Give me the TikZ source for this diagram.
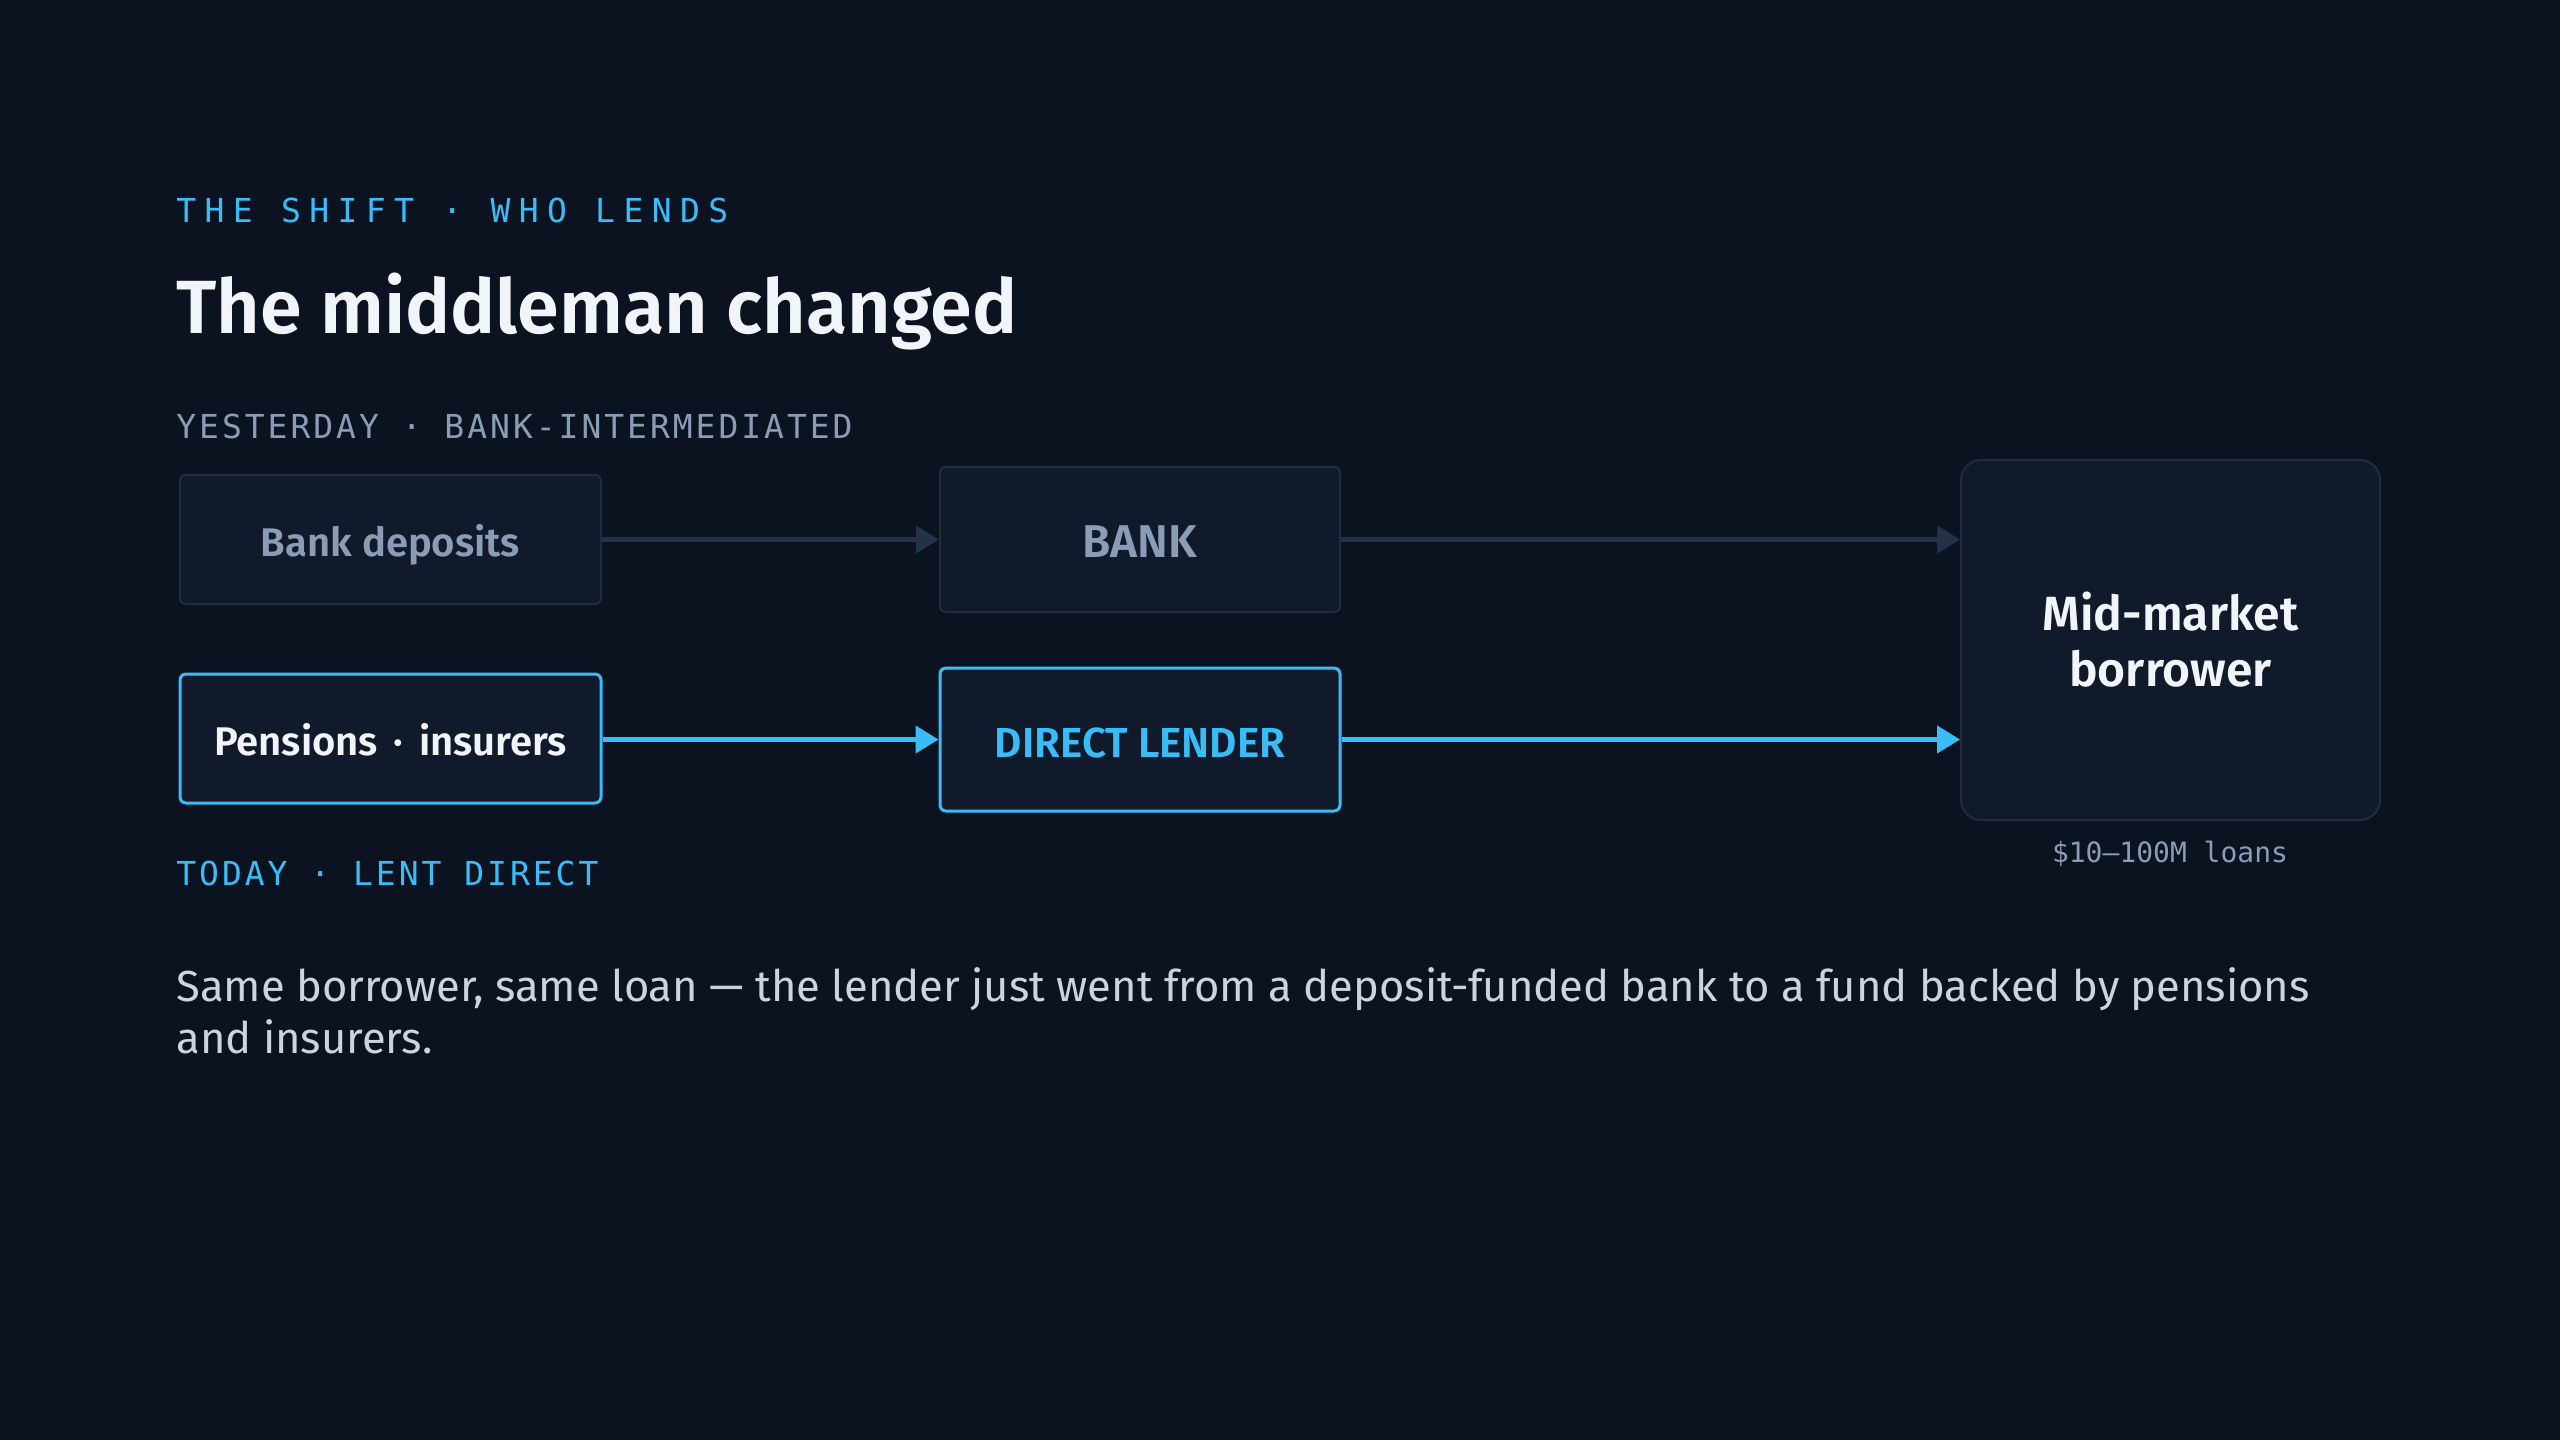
\documentclass[tikz,border=0pt]{standalone}
\usepackage{fontspec}
\setmainfont{Fira Sans}
\setmonofont{DejaVu Sans Mono}
\newfontfamily\semibold{Fira Sans SemiBold}
\newfontfamily\kickerfont{DejaVu Sans Mono}[LetterSpace=25.5]
\newfontfamily\tagfont{DejaVu Sans Mono}[LetterSpace=9]
\usetikzlibrary{arrows.meta, positioning}

\definecolor{bgnavy}{HTML}{0B1220}
\definecolor{boxnavy}{HTML}{111A2B}
\definecolor{edgeslate}{HTML}{212C40}
\definecolor{flowslate}{HTML}{233149}
\definecolor{mutedslate}{HTML}{8B9CB6}
\definecolor{skyblue}{HTML}{38BDF8}
\definecolor{paper}{HTML}{F1F5F9}
\definecolor{bodygrey}{HTML}{CBD5E1}

\begin{document}
\begin{tikzpicture}[
    x=0.5pt, y=-0.5pt,
    box/.style={rectangle, draw=edgeslate, line width=1pt, rounded corners=3pt, fill=boxnavy, minimum width=210.5pt, minimum height=64.5pt, inner sep=0pt, align=center},
    oneline/.style={text height=17pt, text depth=0pt},
    oldbox/.style={box, oneline, text=mutedslate, font=\semibold\fontsize{20}{23}\selectfont},
    newbox/.style={box, oneline, draw=skyblue, line width=1.5pt},
    kicker/.style={anchor=base west, inner sep=0pt, text=skyblue, font=\kickerfont\fontsize{16.5}{20}\selectfont},
    tag/.style={anchor=base west, inner sep=0pt, font=\tagfont\fontsize{16.5}{20}\selectfont},
    oldarrow/.style={-{Triangle[length=11.5pt, width=13.5pt]}, draw=flowslate, fill=flowslate, line width=2.25pt},
    newarrow/.style={-{Triangle[length=11.5pt, width=13.5pt]}, draw=skyblue, line width=2.25pt}
]
\useasboundingbox[fill=bgnavy] (0,0) rectangle (2560,1440);

% Headings
\node[kicker] (kick) at (176,222) {THE SHIFT · WHO LENDS};
\node[anchor=base west, inner sep=0pt, text=paper, font=\semibold\fontsize{37.7}{44}\selectfont] (title) at (176,333) {The middleman changed};
\node[tag, text=mutedslate] (yesterday) at (176,438) {YESTERDAY · BANK-INTERMEDIATED};

% Nodes
\node[oldbox] (deposits) at (390.5,539.5) {Bank deposits};
\node[oldbox, minimum width=200pt, minimum height=72.5pt, text height=18pt, font=\semibold\fontsize{23}{27}\selectfont] (bank) at (1140,539.5) {BANK};
\node[box, minimum width=209.5pt, minimum height=180pt, rounded corners=10pt, text=paper, font=\semibold\fontsize{24}{28}\selectfont] (borrower) at (2170.5,640) {Mid-market\\borrower};
\node[newbox, text=paper, font=\semibold\fontsize{20}{23}\selectfont] (pensions) at (390.5,738.5) {Pensions\hspace{3pt} · \hspace{3pt}insurers};
\node[newbox, minimum width=200pt, minimum height=71.5pt, text height=17.5pt, text=skyblue, font=\semibold\fontsize{21}{25}\selectfont] (lender) at (1140,739.5) {DIRECT LENDER};

% Labels
\node[tag, text=skyblue] (today) at (176,885) {TODAY · LENT DIRECT};
\node[anchor=base, inner sep=0pt, text=mutedslate, font=\ttfamily\fontsize{14}{17}\selectfont] (size) at (2170,862) {\$10–100M loans};
\node[anchor=base west, inner sep=0pt, align=left, text=bodygrey, font=\fontsize{21.75}{26}\selectfont] (note) at (176,1053) {Same borrower, same loan — the lender just went from a deposit-funded bank to a fund backed by pensions\\and insurers.};

% Connections
\draw[oldarrow] (deposits) -- (bank);
\draw[oldarrow] (bank.east) -- (bank.east -| borrower.west);
\draw[newarrow] (pensions.east |- lender) -- (lender);
\draw[newarrow] (lender.east) -- (lender.east -| borrower.west);

\end{tikzpicture}
\end{document}
